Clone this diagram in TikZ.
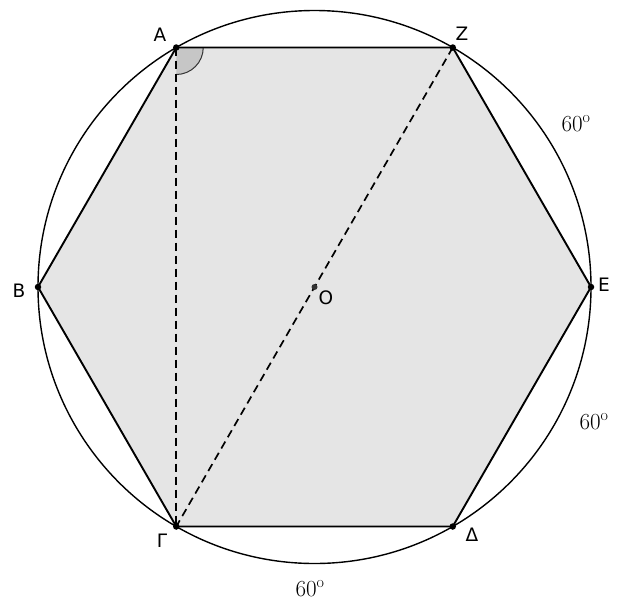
\documentclass[tikz,border=0pt]{standalone}
\usepackage{fontspec}
\usetikzlibrary{calc}
\newfontfamily\lblfont{DejaVu Sans}
\begin{document}
\begin{tikzpicture}[x=1pt,y=-1pt,
  pt/.style={circle,fill=black,inner sep=0pt,minimum size=6.5pt},
  lbl/.style={font=\lblfont\fontsize{18.5}{18.5}\selectfont,inner sep=0pt},
  deg/.style={font=\fontsize{23}{23}\selectfont,inner sep=0pt},
  edge/.style={line width=1.9pt,line join=round},
  dashln/.style={line width=1.7pt,dash pattern=on 8pt off 5pt}]
\useasboundingbox (0,0) rectangle (623,603);
\coordinate (O) at (314.5,287);
\coordinate (A) at (176.25,47.5);
\coordinate (Z) at (452.75,47.5);
\coordinate (E) at (591,287);
\coordinate (D) at (452.75,526.5);
\coordinate (G) at (176.25,526.5);
\coordinate (B) at (38,287);
\fill[gray!20] (A) -- (Z) -- (E) -- (D) -- (G) -- (B) -- cycle;
\fill[gray!45] (A) -- ++(27,0) arc[start angle=0,end angle=90,radius=27] -- cycle;
\draw[line width=1pt,black!80] ($(A)+(27,0)$) arc[start angle=0,end angle=90,radius=27];
\draw[line width=1.4pt] (O) circle[radius=276.5];
\draw[edge] (A) -- (Z) -- (E) -- (D) -- (G) -- (B) -- cycle;
\draw[dashln] (A) -- (G);
\draw[dashln] (Z) -- (G);
\foreach \p in {A,Z,E,D,G,B} \node[pt] (n\p) at (\p) {};
\node[circle,fill=black!80,inner sep=0pt,minimum size=6pt] (nO) at (O) {};
\node[lbl] (lA) at (160,35) {A};
\node[lbl] (lZ) at (462,34) {Z};
\node[lbl] (lE) at (604,285) {E};
\node[lbl] (lD) at (472,535) {Δ};
\node[lbl] (lG) at (162,541) {Γ};
\node[lbl] (lB) at (19,291) {B};
\node[lbl] (lO) at (326,298) {O};
\node[deg] (d1) at (576,124) {60$^{\mathrm{o}}$};
\node[deg] (d2) at (594,422) {60$^{\mathrm{o}}$};
\node[deg] (d3) at (310,589) {60$^{\mathrm{o}}$};
\end{tikzpicture}
\end{document}
